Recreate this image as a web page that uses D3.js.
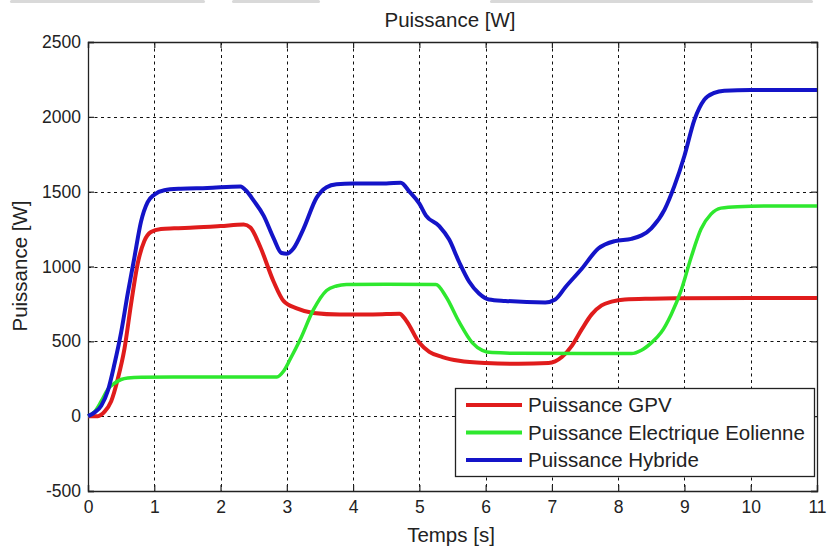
<!DOCTYPE html>
<html>
<head>
<meta charset="utf-8">
<script src="https://cdn.jsdelivr.net/npm/d3@7"></script>
<style>
  html, body { margin: 0; padding: 0; background: #fff; }
  svg { display: block; font-family: "Liberation Sans", Arial, sans-serif; }
</style>
</head>
<body>
<svg id="chart" width="827" height="546"></svg>
<script>
// ---- Data ----
const xTicks = [0, 1, 2, 3, 4, 5, 6, 7, 8, 9, 10, 11];
const yTicks = [-500, 0, 500, 1000, 1500, 2000, 2500];

const gpvT = [0, 0.15, 0.25, 0.35, 0.45, 0.55, 0.65, 0.75, 0.85, 0.95, 1.1, 1.3, 1.6, 2.0, 2.35, 2.45, 2.6, 2.8, 2.95, 3.15, 3.4, 3.8, 4.3, 4.7, 4.8, 5.0, 5.15, 5.35, 5.6, 6.0, 6.5, 6.95, 7.15, 7.3, 7.45, 7.6, 7.75, 7.9, 8.1, 8.5, 9, 10, 11];
const gpvP = [0, 0, 30, 100, 250, 450, 750, 1020, 1170, 1230, 1250, 1255, 1260, 1270, 1280, 1260, 1130, 900, 770, 720, 690, 680, 680, 685, 640, 490, 430, 395, 370, 355, 350, 355, 395, 470, 580, 680, 740, 765, 780, 785, 788, 790, 790];

const eolT = [0, 0.1, 0.2, 0.3, 0.4, 0.5, 0.6, 0.8, 1.5, 2.85, 2.95, 3.05, 3.2, 3.4, 3.6, 3.75, 3.9, 4.5, 5.25, 5.4, 5.6, 5.8, 5.95, 6.1, 6.5, 7.5, 8.2, 8.35, 8.5, 8.65, 8.8, 8.95, 9.1, 9.25, 9.4, 9.55, 9.8, 10.5, 11];
const eolP = [0, 30, 100, 180, 220, 245, 255, 260, 262, 262, 300, 380, 510, 710, 840, 870, 880, 882, 880, 800, 630, 490, 440, 425, 420, 418, 418, 440, 490, 560, 680, 840, 1060, 1250, 1350, 1390, 1400, 1405, 1405];

const hybT = [0, 0.1, 0.2, 0.3, 0.4, 0.5, 0.6, 0.7, 0.8, 0.9, 1.0, 1.15, 1.4, 1.8, 2.3, 2.4, 2.5, 2.65, 2.8, 2.92, 3.0, 3.1, 3.25, 3.45, 3.6, 3.75, 4.0, 4.5, 4.72, 4.85, 5.0, 5.1, 5.3, 5.45, 5.6, 5.75, 5.9, 6.05, 6.3, 6.9, 7.05, 7.2, 7.45, 7.7, 7.95, 8.2, 8.5, 8.7, 8.85, 9.0, 9.15, 9.3, 9.45, 9.6, 10, 11];
const hybP = [0, 25, 70, 170, 350, 560, 820, 1060, 1300, 1430, 1480, 1510, 1520, 1525, 1535, 1500, 1440, 1340, 1190, 1090, 1085, 1120, 1250, 1460, 1530, 1550, 1555, 1555, 1560, 1500, 1420, 1340, 1270, 1180, 1030, 900, 820, 780, 770, 760, 780, 860, 985, 1120, 1170, 1185, 1255, 1380, 1540, 1740, 1980, 2115, 2160, 2175, 2180, 2180];

const seriesNames = ["Puissance GPV", "Puissance Electrique Eolienne", "Puissance Hybride"];
const seriesColors = ["#e01c1c", "#2ee82e", "#1414c8"];

// ---- Layout ----
const svg = d3.select("#chart");
const mLeft = 88, mRight = 817, mTop = 42, mBottom = 491;

const x = d3.scaleLinear().domain([0, 11]).range([mLeft, mRight]);
const y = d3.scaleLinear().domain([-500, 2500]).range([mBottom, mTop]);

// decorative grey bars at top (screenshot artefacts)
svg.append("rect").attr("x", 10).attr("y", 0).attr("width", 195).attr("height", 3).attr("rx", 1.5).attr("fill", "#d9d9d9");
svg.append("rect").attr("x", 232).attr("y", 0).attr("width", 88).attr("height", 3).attr("rx", 1.5).attr("fill", "#d9d9d9");
svg.append("rect").attr("x", 490).attr("y", 0).attr("width", 323).attr("height", 3).attr("rx", 1.5).attr("fill", "#d9d9d9");

// plot background
svg.append("rect").attr("x", mLeft).attr("y", mTop).attr("width", mRight - mLeft).attr("height", mBottom - mTop).attr("fill", "#fff");

// grid
const grid = svg.append("g").attr("stroke", "#111").attr("stroke-width", 1).attr("stroke-dasharray", "3,3.5");
grid.selectAll("line.vx").data(xTicks.slice(1, -1)).join("line")
  .attr("x1", d => Math.round(x(d)) + 0.5).attr("x2", d => Math.round(x(d)) + 0.5)
  .attr("y1", mTop).attr("y2", mBottom);
grid.selectAll("line.hy").data(yTicks.slice(1, -1)).join("line")
  .attr("x1", mLeft).attr("x2", mRight)
  .attr("y1", d => Math.round(y(d)) + 0.5).attr("y2", d => Math.round(y(d)) + 0.5);

// axes (ticks inward)
const tickLen = 6;
const fmt = d => String(d);
const axB = svg.append("g").attr("transform", `translate(0,${mBottom})`)
  .call(d3.axisBottom(x).tickValues(xTicks).tickSize(-tickLen).tickPadding(10).tickFormat(fmt));
const axT = svg.append("g").attr("transform", `translate(0,${mTop})`)
  .call(d3.axisTop(x).tickValues(xTicks).tickSize(-tickLen).tickFormat(""));
const axL = svg.append("g").attr("transform", `translate(${mLeft},0)`)
  .call(d3.axisLeft(y).tickValues(yTicks).tickSize(-tickLen).tickPadding(7).tickFormat(fmt));
const axR = svg.append("g").attr("transform", `translate(${mRight},0)`)
  .call(d3.axisRight(y).tickValues(yTicks).tickSize(-tickLen).tickFormat(""));
[axB, axT, axL, axR].forEach(a => {
  a.select(".domain").attr("stroke", "#222").attr("stroke-width", 1.3);
  a.selectAll(".tick line").attr("stroke", "#222").attr("stroke-width", 1.2);
  a.selectAll("text").attr("fill", "#222").style("font-size", "17.5px").style("font-family", "'Liberation Sans', Arial, sans-serif");
});

// lines
const lineGen = d3.line().x(d => x(d[0])).y(d => y(d[1])).curve(d3.curveMonotoneX);
const series = [
  d3.zip(gpvT, gpvP),
  d3.zip(eolT, eolP),
  d3.zip(hybT, hybP)
];
const widths = [4, 3.5, 4];
series.forEach((s, i) => {
  svg.append("path").datum(s)
    .attr("fill", "none")
    .attr("stroke", seriesColors[i])
    .attr("stroke-width", widths[i])
    .attr("stroke-linejoin", "round")
    .attr("d", lineGen);
});

// title and labels
svg.append("text").attr("x", 450).attr("y", 27).attr("text-anchor", "middle")
  .attr("fill", "#222").style("font-size", "20.5px").text("Puissance [W]");
svg.append("text").attr("x", 451).attr("y", 542).attr("text-anchor", "middle")
  .attr("fill", "#222").style("font-size", "20.5px").text("Temps [s]");
svg.append("text").attr("transform", "translate(27,266) rotate(-90)").attr("text-anchor", "middle")
  .attr("fill", "#222").style("font-size", "20.5px").text("Puissance [W]");

// legend
const lg = svg.append("g");
lg.append("rect").attr("x", 455.5).attr("y", 388.5).attr("width", 359).attr("height", 88)
  .attr("fill", "#fff").attr("stroke", "#222").attr("stroke-width", 1.3);
seriesNames.forEach((n, i) => {
  const yy = 405 + i * 27.5;
  lg.append("line").attr("x1", 466).attr("x2", 522).attr("y1", yy).attr("y2", yy)
    .attr("stroke", seriesColors[i]).attr("stroke-width", 4);
  lg.append("text").attr("x", 528).attr("y", yy + 7).attr("fill", "#222")
    .style("font-size", "20.5px").text(n);
});
</script>
</body>
</html>
